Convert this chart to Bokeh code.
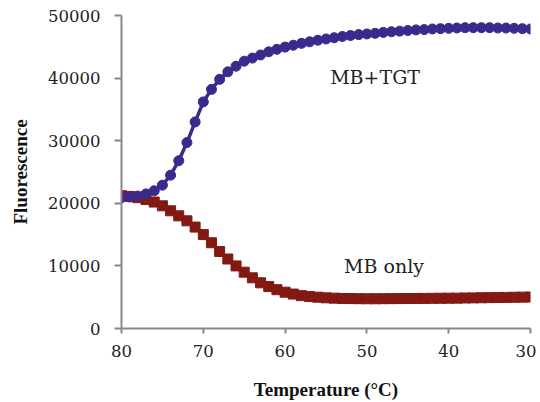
from bokeh.plotting import figure
from bokeh.models import Range1d, Label, NumeralTickFormatter, ColumnDataSource
from bokeh.embed import file_html
from bokeh.resources import INLINE

temperature = [80, 79, 78, 77, 76, 75, 74, 73, 72, 71, 70, 69, 68, 67, 66, 65, 64, 63, 62, 61,
               60, 59, 58, 57, 56, 55, 54, 53, 52, 51, 50, 49, 48, 47, 46, 45, 44, 43, 42, 41,
               40, 39, 38, 37, 36, 35, 34, 33, 32, 31, 30]

mb_tgt = [20900, 21000, 21150, 21500, 22000, 22900, 24500, 26800, 29700, 33000,
          36200, 38200, 39800, 41000, 41900, 42700, 43200, 43700, 44200, 44600,
          44950, 45250, 45550, 45800, 46050, 46250, 46450, 46650, 46800, 46950,
          47050, 47150, 47300, 47400, 47500, 47600, 47700, 47750, 47850, 47900,
          47950, 48000, 48050, 48050, 48050, 48050, 48000, 48000, 47950, 47900, 47850]

mb_only = [21200, 21100, 20900, 20600, 20200, 19600, 18800, 18000, 17200, 16200,
           15000, 13700, 12300, 11100, 10000, 9000, 8100, 7300, 6700, 6200,
           5800, 5500, 5250, 5100, 5000, 4900, 4850, 4800, 4780, 4760,
           4750, 4750, 4760, 4770, 4780, 4790, 4800, 4810, 4820, 4830,
           4840, 4850, 4870, 4890, 4910, 4930, 4950, 4970, 4990, 5010, 5030]

x_ticks = [80, 70, 60, 50, 40, 30]
y_ticks = [0, 10000, 20000, 30000, 40000, 50000]

series_labels = ["MB+TGT", "MB only"]

BLUE = "#3b2a8b"
RED = "#821912"
SERIF_BOLD = "Liberation Serif"
SERIF = "DejaVu Serif"

src = ColumnDataSource(dict(t=temperature, tgt=mb_tgt, only=mb_only))

p = figure(width=536, height=402, output_backend="svg", toolbar_location=None,
           x_range=Range1d(80, 30), y_range=Range1d(0, 50000),
           min_border_left=121, min_border_right=6, min_border_top=15, min_border_bottom=74)

p.outline_line_color = None
p.xgrid.visible = False
p.ygrid.visible = False
p.background_fill_color = "white"
p.border_fill_color = "white"

p.line("t", "only", source=src, line_color=RED, line_width=3.5)
p.scatter("t", "only", source=src, marker="square", size=10, fill_color=RED, line_color=RED)
p.line("t", "tgt", source=src, line_color=BLUE, line_width=3.5)
p.scatter("t", "tgt", source=src, marker="circle", size=10, fill_color=BLUE, line_color=BLUE)

for ax in (p.xaxis[0], p.yaxis[0]):
    ax.axis_line_color = "#878787"
    ax.axis_line_width = 2
    ax.major_tick_line_color = "#878787"
    ax.major_tick_line_width = 2
    ax.major_tick_in = 0
    ax.minor_tick_line_color = None
    ax.major_label_text_font = SERIF
    ax.major_label_text_font_size = "16.5px"
    ax.major_label_text_color = "#222222"
    ax.axis_label_text_font = SERIF_BOLD
    ax.axis_label_text_font_style = "bold"
    ax.axis_label_text_font_size = "19px"
    ax.axis_label_text_color = "#111111"
    ax.formatter = NumeralTickFormatter(format="0")

p.xaxis.ticker = x_ticks
p.yaxis.ticker = y_ticks
p.xaxis.major_tick_out = 5
p.yaxis.major_tick_out = 7
p.xaxis.major_label_standoff = 11
p.yaxis.major_label_standoff = 14
p.xaxis.axis_label = "Temperature (°C)"
p.yaxis.axis_label = "Fluorescence"
p.xaxis.axis_label_standoff = 19
p.yaxis.axis_label_standoff = 14

p.add_layout(Label(x=49, y=40100, text=series_labels[0], text_align="center",
                   text_baseline="alphabetic", text_font=SERIF, text_font_size="19px",
                   text_color="#222222"))
p.add_layout(Label(x=47.9, y=10030, text=series_labels[1], text_align="center",
                   text_baseline="alphabetic", text_font=SERIF, text_font_size="19px",
                   text_color="#222222"))

open("out.html", "w").write(file_html(p, INLINE))
